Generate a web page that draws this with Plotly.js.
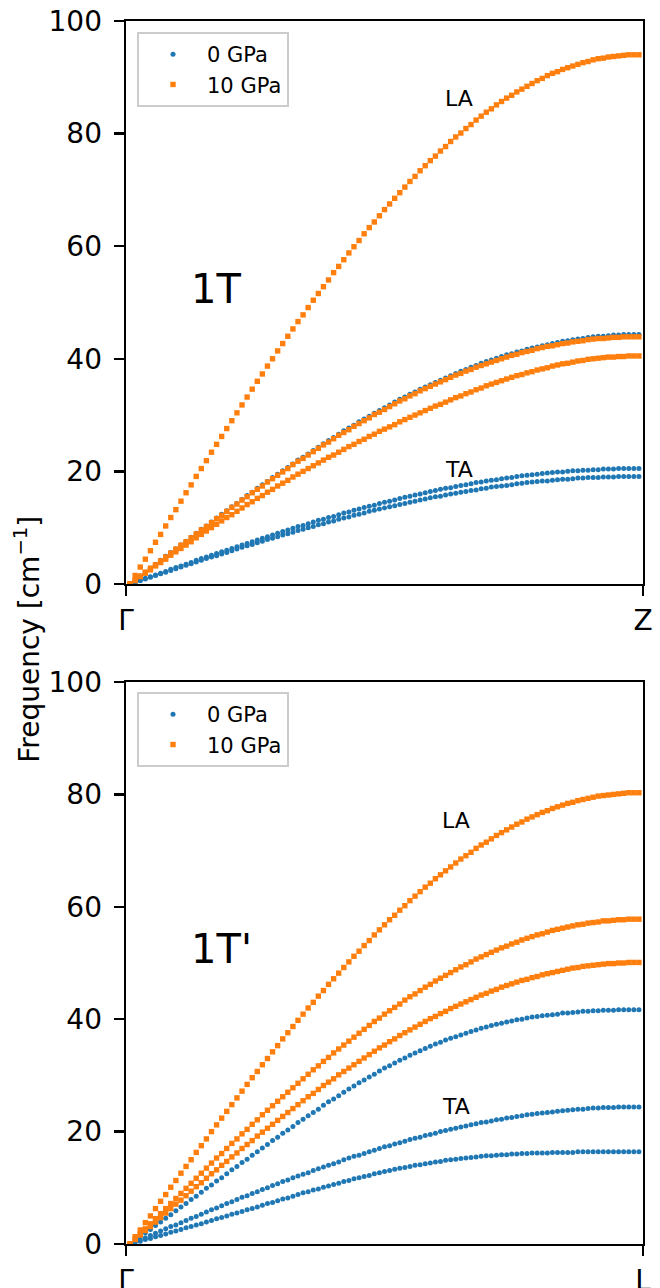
<!DOCTYPE html>
<html>
<head>
<meta charset="utf-8">
<script src="https://cdn.plot.ly/plotly-3.0.1.min.js"></script>
<style>html,body{margin:0;padding:0;background:#fff;}#chart{width:660px;height:1288px;}</style>
</head>
<body>
<div id="chart"></div>
<script>
// q-point index along the path (Gamma -> zone boundary)
const qPath = [0,1,2,3,4,5,6,7,8,9,10,11,12,13,14,15,16,17,18,19,20,21,22,23,24,25,26,27,28,29,30,31,32,33,34,35,36,37,38,39,40,41,42,43,44,45,46,47,48,49,50,51,52,53,54,55,56,57,58,59,60,61,62,63,64,65,66,67,68,69,70,71,72,73,74,75,76,77,78,79,80,81,82,83,84,85,86,87,88,89,90,91,92,93,94,95,96,97,98,99,100];

const seriesNames = ['0 GPa', '10 GPa'];
const phaseLabels = ['1T', "1T'"];
const xTickTop = ['Γ', 'Z'];
const xTickBottom = ['Γ', 'L'];
const yTicks = [0, 20, 40, 60, 80, 100];

// ---- 1T, 0 GPa ----
const t1_0_b1 = [0,0.3,0.6,0.9,1.2,1.5,1.8,2.1,2.4,2.7,3.0,3.3,3.6,3.9,4.2,4.5,4.8,5.0,5.3,5.6,5.9,6.2,6.5,6.8,7.0,7.3,7.6,7.9,8.1,8.4,8.7,8.9,9.2,9.5,9.7,10.0,10.2,10.5,10.7,11.0,11.2,11.5,11.7,11.9,12.2,12.4,12.6,12.9,13.1,13.3,13.5,13.7,13.9,14.1,14.3,14.5,14.7,14.9,15.1,15.3,15.5,15.6,15.8,16.0,16.1,16.3,16.4,16.6,16.7,16.9,17.0,17.2,17.3,17.4,17.5,17.6,17.8,17.9,18.0,18.1,18.2,18.3,18.3,18.4,18.5,18.6,18.6,18.7,18.8,18.8,18.9,18.9,18.9,19.0,19.0,19.0,19.1,19.1,19.1,19.1,19.1];
const t1_0_b2 = [0,0.3,0.6,1.0,1.3,1.6,1.9,2.2,2.6,2.9,3.2,3.5,3.8,4.2,4.5,4.8,5.1,5.4,5.7,6.0,6.3,6.6,6.9,7.2,7.5,7.8,8.1,8.4,8.7,9.0,9.3,9.6,9.9,10.2,10.4,10.7,11.0,11.3,11.5,11.8,12.0,12.3,12.6,12.8,13.1,13.3,13.6,13.8,14.0,14.3,14.5,14.7,14.9,15.2,15.4,15.6,15.8,16.0,16.2,16.4,16.6,16.8,17.0,17.1,17.3,17.5,17.6,17.8,18.0,18.1,18.3,18.4,18.5,18.7,18.8,18.9,19.1,19.2,19.3,19.4,19.5,19.6,19.7,19.8,19.9,19.9,20.0,20.1,20.1,20.2,20.2,20.3,20.3,20.4,20.4,20.4,20.5,20.5,20.5,20.5,20.5];
const t1_0_b3 = [0,0.7,1.4,2.1,2.8,3.5,4.2,4.9,5.6,6.2,6.9,7.6,8.3,9.0,9.7,10.3,11.0,11.7,12.4,13.0,13.7,14.3,15.0,15.7,16.3,17.0,17.6,18.2,18.9,19.5,20.1,20.7,21.3,22.0,22.5,23.1,23.7,24.3,24.9,25.5,26.0,26.6,27.2,27.7,28.2,28.8,29.3,29.8,30.3,30.8,31.3,31.8,32.3,32.8,33.2,33.7,34.1,34.6,35.0,35.4,35.8,36.2,36.6,37.0,37.4,37.8,38.1,38.5,38.8,39.2,39.5,39.8,40.1,40.4,40.7,40.9,41.2,41.4,41.7,41.9,42.1,42.3,42.5,42.7,42.9,43.1,43.2,43.4,43.5,43.6,43.8,43.9,44.0,44.0,44.1,44.2,44.2,44.3,44.3,44.3,44.3];
// ---- 1T, 10 GPa ----
const t1_10_b1 = [0,0.6,1.3,1.9,2.5,3.2,3.8,4.4,5.1,5.7,6.3,6.9,7.5,8.2,8.8,9.4,10.0,10.6,11.2,11.8,12.3,12.9,13.5,14.1,14.6,15.2,15.7,16.3,16.8,17.4,17.9,18.4,19.0,19.5,20.0,20.5,21.0,21.5,22.0,22.5,22.9,23.4,23.9,24.4,24.8,25.3,25.7,26.2,26.6,27.1,27.5,27.9,28.3,28.8,29.2,29.6,30.0,30.4,30.8,31.2,31.6,31.9,32.3,32.7,33.1,33.4,33.8,34.1,34.5,34.8,35.2,35.5,35.8,36.1,36.4,36.7,37.0,37.2,37.5,37.7,38.0,38.2,38.4,38.7,38.9,39.1,39.2,39.4,39.6,39.7,39.9,40.0,40.1,40.2,40.3,40.3,40.4,40.4,40.5,40.5,40.5];
const t1_10_b2 = [0,0.7,1.4,2.1,2.8,3.4,4.1,4.8,5.5,6.2,6.9,7.5,8.2,8.9,9.6,10.2,10.9,11.6,12.2,12.9,13.6,14.2,14.9,15.5,16.2,16.8,17.4,18.1,18.7,19.3,19.9,20.5,21.2,21.8,22.3,22.9,23.5,24.1,24.7,25.2,25.8,26.4,26.9,27.4,28.0,28.5,29.0,29.5,30.1,30.5,31.0,31.5,32.0,32.5,32.9,33.4,33.8,34.3,34.7,35.1,35.5,35.9,36.3,36.7,37.1,37.4,37.8,38.1,38.5,38.8,39.1,39.4,39.7,40.0,40.3,40.6,40.8,41.1,41.3,41.5,41.8,42.0,42.2,42.3,42.5,42.7,42.8,43.0,43.1,43.2,43.4,43.5,43.6,43.6,43.7,43.8,43.8,43.9,43.9,43.9,43.9];
const t1_10_b3 = [0,1.5,3.0,4.4,5.9,7.4,8.8,10.3,11.8,13.2,14.7,16.2,17.6,19.1,20.5,21.9,23.4,24.8,26.2,27.6,29.0,30.4,31.8,33.2,34.6,36.0,37.3,38.7,40.0,41.4,42.7,44.0,45.3,46.6,47.8,49.1,50.4,51.6,52.8,54.0,55.3,56.4,57.6,58.8,59.9,61.0,62.2,63.3,64.3,65.4,66.5,67.5,68.5,69.5,70.5,71.5,72.4,73.4,74.3,75.2,76.0,76.9,77.7,78.6,79.4,80.1,80.9,81.6,82.4,83.1,83.8,84.4,85.1,85.7,86.3,86.8,87.4,87.9,88.4,88.9,89.4,89.8,90.3,90.7,91.0,91.4,91.7,92.0,92.3,92.6,92.8,93.1,93.3,93.4,93.6,93.7,93.8,93.9,94.0,94.0,94.0];

// ---- 1T', 0 GPa ----
const t2_0_b1 = [0,0.3,0.5,0.8,1.0,1.3,1.5,1.8,2.1,2.3,2.6,2.9,3.1,3.4,3.6,3.9,4.2,4.5,4.7,5.0,5.3,5.5,5.8,6.1,6.3,6.6,6.9,7.2,7.4,7.7,8.0,8.2,8.5,8.8,9.1,9.3,9.6,9.8,10.1,10.3,10.6,10.8,11.1,11.3,11.6,11.8,12.0,12.2,12.5,12.7,12.9,13.1,13.3,13.5,13.6,13.8,14.0,14.1,14.3,14.4,14.6,14.7,14.9,15.0,15.1,15.2,15.3,15.4,15.5,15.6,15.7,15.7,15.8,15.9,15.9,16.0,16.0,16.1,16.1,16.2,16.2,16.2,16.2,16.3,16.3,16.3,16.3,16.3,16.4,16.4,16.4,16.4,16.4,16.4,16.4,16.4,16.4,16.4,16.4,16.4,16.4];
const t2_0_b2 = [0,0.4,0.8,1.1,1.5,1.9,2.3,2.7,3.1,3.4,3.8,4.2,4.6,4.9,5.3,5.7,6.1,6.4,6.8,7.2,7.5,7.9,8.3,8.6,9.0,9.3,9.7,10.0,10.4,10.7,11.1,11.4,11.8,12.1,12.4,12.7,13.1,13.4,13.7,14.0,14.3,14.6,15.0,15.3,15.6,15.8,16.1,16.4,16.7,17.0,17.3,17.5,17.8,18.0,18.3,18.6,18.8,19.0,19.3,19.5,19.7,20.0,20.2,20.4,20.6,20.8,21.0,21.2,21.4,21.6,21.7,21.9,22.1,22.2,22.4,22.5,22.7,22.8,23.0,23.1,23.2,23.3,23.4,23.5,23.6,23.7,23.8,23.9,24.0,24.0,24.1,24.2,24.2,24.3,24.3,24.3,24.4,24.4,24.4,24.4,24.4];
const t2_0_b3 = [0,0.7,1.3,2.0,2.6,3.3,3.9,4.6,5.2,5.9,6.6,7.2,7.9,8.5,9.2,9.9,10.5,11.2,11.8,12.5,13.2,13.8,14.5,15.1,15.8,16.4,17.1,17.7,18.4,19.0,19.7,20.3,20.9,21.6,22.2,22.8,23.4,24.0,24.7,25.3,25.8,26.4,27.0,27.6,28.1,28.7,29.2,29.7,30.2,30.8,31.3,31.7,32.2,32.7,33.1,33.6,34.0,34.4,34.8,35.2,35.6,35.9,36.3,36.6,36.9,37.2,37.5,37.8,38.1,38.4,38.6,38.9,39.1,39.3,39.5,39.7,39.9,40.0,40.2,40.4,40.5,40.6,40.7,40.8,40.9,41.1,41.1,41.2,41.3,41.4,41.4,41.5,41.5,41.6,41.6,41.6,41.7,41.7,41.7,41.7,41.7];
// ---- 1T', 10 GPa ----
const t2_10_b1 = [0,0.8,1.6,2.4,3.1,3.9,4.7,5.5,6.3,7.1,7.8,8.6,9.4,10.2,10.9,11.7,12.5,13.2,14.0,14.7,15.5,16.2,17.0,17.7,18.4,19.2,19.9,20.6,21.3,22.0,22.7,23.4,24.1,24.8,25.5,26.2,26.8,27.5,28.2,28.8,29.4,30.1,30.7,31.3,31.9,32.5,33.1,33.7,34.3,34.9,35.4,36.0,36.5,37.1,37.6,38.1,38.6,39.1,39.6,40.1,40.5,41.0,41.4,41.9,42.3,42.7,43.1,43.5,43.9,44.3,44.6,45.0,45.3,45.7,46.0,46.3,46.6,46.9,47.1,47.4,47.6,47.9,48.1,48.3,48.5,48.7,48.9,49.1,49.2,49.4,49.5,49.6,49.7,49.8,49.9,49.9,50.0,50.0,50.1,50.1,50.1];
const t2_10_b2 = [0,0.9,1.8,2.7,3.6,4.5,5.4,6.3,7.2,8.1,9.0,9.9,10.8,11.7,12.6,13.5,14.4,15.3,16.1,17.0,17.9,18.7,19.6,20.4,21.3,22.1,23.0,23.8,24.6,25.4,26.2,27.0,27.8,28.6,29.4,30.2,31.0,31.7,32.5,33.2,34.0,34.7,35.4,36.1,36.8,37.5,38.2,38.9,39.6,40.2,40.9,41.5,42.1,42.7,43.4,44.0,44.5,45.1,45.7,46.2,46.8,47.3,47.8,48.3,48.8,49.3,49.7,50.2,50.7,51.1,51.5,51.9,52.3,52.7,53.0,53.4,53.7,54.1,54.4,54.7,55.0,55.2,55.5,55.8,56.0,56.2,56.4,56.6,56.8,56.9,57.1,57.2,57.3,57.5,57.5,57.6,57.7,57.7,57.8,57.8,57.8];
const t2_10_b3 = [0,1.3,2.5,3.8,5.0,6.3,7.6,8.8,10.1,11.3,12.6,13.8,15.0,16.3,17.5,18.7,20.0,21.2,22.4,23.6,24.8,26.0,27.2,28.4,29.6,30.7,31.9,33.0,34.2,35.3,36.5,37.6,38.7,39.8,40.9,42.0,43.0,44.1,45.1,46.2,47.2,48.2,49.2,50.2,51.2,52.1,53.1,54.0,55.0,55.9,56.8,57.7,58.5,59.4,60.2,61.1,61.9,62.7,63.5,64.2,65.0,65.7,66.4,67.1,67.8,68.5,69.1,69.7,70.4,71.0,71.5,72.1,72.7,73.2,73.7,74.2,74.7,75.1,75.6,76.0,76.4,76.8,77.1,77.5,77.8,78.1,78.4,78.6,78.9,79.1,79.3,79.5,79.7,79.8,79.9,80.0,80.1,80.2,80.3,80.3,80.3];

const allSeries = {t1_0_b1,t1_0_b2,t1_0_b3,t1_10_b1,t1_10_b2,t1_10_b3,t2_0_b1,t2_0_b2,t2_0_b3,t2_10_b1,t2_10_b2,t2_10_b3};
const bad = Object.entries(allSeries).filter(([k,v]) => v.length !== qPath.length).map(([k,v]) => k + ':' + v.length);
if (bad.length) { throw new Error('Length mismatch ' + bad.join(', ')); }

const BLUE = '#1f77b4', ORANGE = '#ff7f0e';
function mk(y, sub, pressure, show) {
  const isHigh = pressure === 1;
  return {
    type: 'scatter', mode: 'markers',
    x: qPath, y: y,
    xaxis: sub === 0 ? 'x' : 'x2', yaxis: sub === 0 ? 'y' : 'y2',
    name: seriesNames[pressure],
    legend: sub === 0 ? 'legend' : 'legend2',
    legendgroup: 'g' + sub + '_' + pressure,
    showlegend: show,
    marker: isHigh ? {symbol: 'square', size: 5.4, color: ORANGE} : {symbol: 'circle', size: 5, color: BLUE},
    hoverinfo: 'skip'
  };
}
const data = [
  mk(t1_0_b1, 0, 0, true), mk(t1_0_b2, 0, 0, false), mk(t1_0_b3, 0, 0, false),
  mk(t1_10_b1, 0, 1, true), mk(t1_10_b2, 0, 1, false), mk(t1_10_b3, 0, 1, false),
  mk(t2_0_b1, 1, 0, true), mk(t2_0_b2, 1, 0, false), mk(t2_0_b3, 1, 0, false),
  mk(t2_10_b1, 1, 1, true), mk(t2_10_b2, 1, 1, false), mk(t2_10_b3, 1, 1, false)
];

const axisStyle = {
  showline: true, linecolor: 'black', linewidth: 2.4, mirror: true,
  ticks: 'outside', ticklen: 10, tickwidth: 2.4, tickcolor: 'black',
  showgrid: false, zeroline: false, tickfont: {size: 28, color: 'black'}, fixedrange: true
};
const xr = [-0.8, 100.8];
const legendStyle = {
  xanchor: 'left', yanchor: 'top', bgcolor: 'rgba(255,255,255,0.8)',
  bordercolor: '#cccccc', borderwidth: 2, font: {size: 21, color: 'black'},
  itemwidth: 58, tracegroupgap: 0
};

const layout = {
  width: 660, height: 1288,
  margin: {l: 126, r: 17, t: 21, b: 44},
  paper_bgcolor: 'white', plot_bgcolor: 'white',
  font: {family: 'DejaVu Sans, sans-serif', color: 'black'},
  showlegend: true,
  xaxis: Object.assign({}, axisStyle, {domain: [0, 1], anchor: 'y', range: xr, tickvals: xr, ticktext: xTickTop}),
  yaxis: Object.assign({}, axisStyle, {domain: [0.5397, 1], anchor: 'x', range: [0, 100], tickvals: yTicks, ticklabelstandoff: 6}),
  xaxis2: Object.assign({}, axisStyle, {domain: [0, 1], anchor: 'y2', range: xr, tickvals: xr, ticktext: xTickBottom}),
  yaxis2: Object.assign({}, axisStyle, {domain: [0, 0.4595], anchor: 'x2', range: [0, 100], tickvals: yTicks, ticklabelstandoff: 6}),
  legend: Object.assign({}, legendStyle, {x: 0.0213, y: 0.991}),
  legend2: Object.assign({}, legendStyle, {x: 0.0213, y: 0.4513}),
  annotations: [
    {text: phaseLabels[0], xref: 'x domain', yref: 'y', x: 0.122, y: 52.4, xanchor: 'left', yanchor: 'middle', showarrow: false, font: {size: 40}},
    {text: 'LA', xref: 'x domain', yref: 'y', x: 0.6435, y: 86.3, xanchor: 'center', yanchor: 'middle', showarrow: false, font: {size: 22}},
    {text: 'TA', xref: 'x domain', yref: 'y', x: 0.644, y: 20.4, xanchor: 'center', yanchor: 'middle', showarrow: false, font: {size: 22}},
    {text: phaseLabels[1], xref: 'x2 domain', yref: 'y2', x: 0.122, y: 52.5, xanchor: 'left', yanchor: 'middle', showarrow: false, font: {size: 40}},
    {text: 'LA', xref: 'x2 domain', yref: 'y2', x: 0.638, y: 75.4, xanchor: 'center', yanchor: 'middle', showarrow: false, font: {size: 22}},
    {text: 'TA', xref: 'x2 domain', yref: 'y2', x: 0.638, y: 24.4, xanchor: 'center', yanchor: 'middle', showarrow: false, font: {size: 22}},
    {text: 'Frequency [cm<sup>−1</sup>]', xref: 'paper', yref: 'paper', x: -0.19, y: 0.4947, xanchor: 'center', yanchor: 'middle', textangle: -90, showarrow: false, font: {size: 28}}
  ]
};

Plotly.newPlot('chart', data, layout, {staticPlot: true, displayModeBar: false});
</script>
</body>
</html>
